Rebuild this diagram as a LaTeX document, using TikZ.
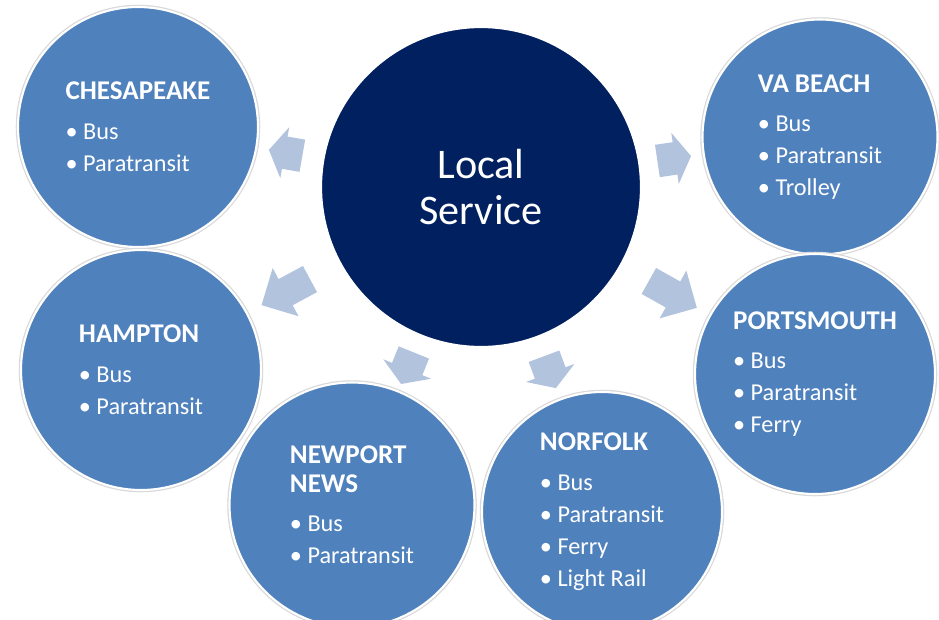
\documentclass[tikz,border=0pt]{standalone}
\usepackage{fontspec}
\setmainfont{Carlito}
\usepackage{tikz}
\usetikzlibrary{shapes.arrows}
\definecolor{cityblue}{RGB}{79,129,189}
\definecolor{hubnavy}{RGB}{0,32,96}
\definecolor{flowblue}{RGB}{178,195,222}
\newcommand{\placename}[1]{\textbf{\fontsize{15.4}{17}\selectfont #1}}

\begin{document}
\begin{tikzpicture}[x=0.02cm, y=-0.02cm,
  city/.style={circle, fill=cityblue, draw=white, line width=1.2pt, preaction={draw=black!15, line width=2.6pt}, minimum size=4.8cm, inner sep=0pt, align=left, text=white, font=\fontsize{13.8}{18.2}\selectfont},
  flow/.style={single arrow, fill=flowblue, draw=none, inner xsep=0pt, sloped, allow upside down},
  shortflow/.style={flow, minimum height=0.68cm, inner ysep=0.32cm, single arrow head extend=0.19cm, single arrow tip angle=116},
  longflow/.style={flow, minimum height=1.1cm, inner ysep=0.29cm, single arrow head extend=0.25cm, single arrow tip angle=90}]
  \useasboundingbox (0,0) rectangle (939,619);
  \node[city] (ches) at (138,127) {\placename{CHESAPEAKE}\\[4.5pt] \textbullet~Bus\\ \textbullet~Paratransit};
  \node[city, minimum size=4.7cm] (vabeach) at (820,137) {\placename{VA BEACH}\\[4.5pt] \textbullet~Bus\\ \textbullet~Paratransit\\ \textbullet~Trolley};
  \node[city] (hampton) at (141,370) {\placename{HAMPTON}\\[4.5pt] \textbullet~Bus\\ \textbullet~Paratransit};
  \node[city] (ports) at (815,374) {\placename{PORTSMOUTH}\\[4.5pt] \textbullet~Bus\\ \textbullet~Paratransit\\ \textbullet~Ferry};
  \node[city, minimum size=4.9cm] (newport) at (352,505) {\placename{NEWPORT}\\[-2pt] \placename{NEWS}\\[4.5pt] \textbullet~Bus\\ \textbullet~Paratransit};
  \node[city] (norfolk) at (602,512) {\placename{NORFOLK}\\[4.5pt] \textbullet~Bus\\ \textbullet~Paratransit\\ \textbullet~Ferry\\ \textbullet~Light Rail};
  \node[circle, fill=hubnavy, draw=white, line width=1.2pt, minimum size=6.4cm, align=center, text=white, font=\fontsize{24}{26.6}\selectfont] (hub) at (481,187) {Local\\Service};
  % arrows from the hub out to each city
  \foreach \c/\kind in {ches/shortflow, vabeach/shortflow, hampton/longflow, ports/longflow, newport/shortflow, norfolk/shortflow}
    \path (hub.center) -- (\c.center) node[pos=0.555, \kind] (to-\c) {};
\end{tikzpicture}
\end{document}
